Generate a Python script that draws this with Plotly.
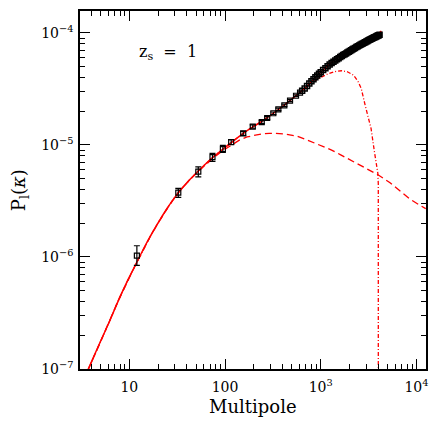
import plotly.graph_objects as go

# theory curves (multipole, P)
ell_full = [3.3, 3.73, 4.5, 5.35, 6.3, 7.7, 10, 12, 14.5, 17, 20, 24.6, 28, 32.5, 42, 52, 63, 74, 95,
            116, 155, 195, 242, 320, 417, 552, 686, 773, 872, 982, 1256, 1606, 2054, 2627, 3360, 4150,
            4300]
p_full = [7.8e-8, 1.0e-7, 1.44e-7, 2.0e-7, 2.74e-7, 4.1e-7, 6.6e-7, 9.0e-7, 1.24e-6, 1.59e-6, 2.02e-6,
          2.68e-6, 3.15e-6, 3.75e-6, 4.82e-6, 5.8e-6, 6.8e-6, 7.71e-6, 9.15e-6, 1.05e-5, 1.27e-5, 1.45e-5,
          1.62e-5, 1.92e-5, 2.27e-5, 2.76e-5, 3.22e-5, 3.55e-5, 3.97e-5, 4.4e-5, 5.32e-5, 6.35e-5,
          7.27e-5, 8.2e-5, 9.2e-5, 1.01e-4, 1.04e-4]

ell_lin = [3.3, 3.73, 5.35, 7.7, 10, 12, 17, 24.6, 32.5, 42, 52, 63, 74, 95, 116, 140, 170, 200, 240,
           290, 340, 420, 560, 700, 850, 1000, 1300, 1600, 2000, 2600, 3200, 4000, 5300, 6400, 8500,
           10500, 12500]
p_lin = [7.8e-8, 1.0e-7, 2.0e-7, 4.1e-7, 6.6e-7, 9.0e-7, 1.59e-6, 2.68e-6, 3.75e-6, 4.8e-6, 5.75e-6,
         6.7e-6, 7.55e-6, 8.9e-6, 1.0e-5, 1.1e-5, 1.18e-5, 1.22e-5, 1.255e-5, 1.27e-5, 1.27e-5, 1.25e-5,
         1.2e-5, 1.12e-5, 1.05e-5, 9.9e-6, 9.0e-6, 8.2e-6, 7.4e-6, 6.6e-6, 6.0e-6, 5.4e-6, 4.6e-6,
         4.0e-6, 3.3e-6, 2.95e-6, 2.7e-6]

ell_cut = [3.3, 3.73, 4.5, 5.35, 6.3, 7.7, 10, 12, 14.5, 17, 20, 24.6, 28, 32.5, 42, 52, 63, 74, 95,
           116, 155, 195, 242, 320, 417, 552, 686, 800, 1000, 1200, 1400, 1650, 1900, 2200, 2450, 2650,
           2900, 3150, 3360, 3640, 3800, 3950, 3995, 4000]
p_cut = [7.8e-8, 1.0e-7, 1.44e-7, 2.0e-7, 2.74e-7, 4.1e-7, 6.6e-7, 9.0e-7, 1.24e-6, 1.59e-6, 2.02e-6,
         2.68e-6, 3.15e-6, 3.75e-6, 4.82e-6, 5.8e-6, 6.8e-6, 7.71e-6, 9.15e-6, 1.05e-5, 1.27e-5,
         1.45e-5, 1.62e-5, 1.92e-5, 2.27e-5, 2.76e-5, 3.2e-5, 3.58e-5, 4.0e-5, 4.33e-5, 4.52e-5,
         4.6e-5, 4.5e-5, 4.2e-5, 3.7e-5, 3.2e-5, 2.3e-5, 1.75e-5, 1.4e-5, 8.7e-6, 7.0e-6, 5.6e-6,
         4.5e-6, 1e-9]

# binned measurements with error bars
ell_pts = [12, 32.5, 52.6, 74, 95, 116, 155, 195, 242, 276, 320, 361, 417, 478, 552, 608]
p_pts = [1.03e-6, 3.75e-6, 5.78e-6, 7.8e-6, 9.2e-6, 1.06e-5, 1.27e-5, 1.46e-5, 1.6e-5, 1.74e-5,
         1.92e-5, 2.08e-5, 2.26e-5, 2.49e-5, 2.75e-5, 2.93e-5]
err_up = [0.23e-6, 0.35e-6, 0.6e-6, 0.63e-6, 0.7e-6, 0.55e-6, 0.55e-6, 0.5e-6, 0.5e-6, 0.5e-6,
          0.5e-6, 0.5e-6, 0.5e-6, 0.5e-6, 0.5e-6, 0.5e-6]
err_dn = [0.19e-6, 0.34e-6, 0.6e-6, 0.65e-6, 0.6e-6, 0.5e-6, 0.5e-6, 0.5e-6, 0.5e-6, 0.5e-6,
          0.5e-6, 0.5e-6, 0.5e-6, 0.5e-6, 0.5e-6, 0.5e-6]

# dense high-multipole measurements (merge into a band)
ell_band = [640, 680, 720, 760, 800, 840, 880, 920, 960, 1000, 1060, 1120, 1180, 1240, 1300, 1360,
            1420, 1480, 1540, 1600, 1660, 1720, 1780, 1840, 1900, 1960, 2020, 2080, 2140, 2200, 2280,
            2360, 2440, 2520, 2600, 2680, 2760, 2840, 2920, 3000, 3080, 3160, 3240, 3320, 3400, 3480,
            3560, 3640, 3720, 3800, 3880, 3960, 4040, 4120]
p_band = [3.05e-5, 3.19e-5, 3.36e-5, 3.54e-5, 3.71e-5, 3.87e-5, 4.03e-5, 4.18e-5, 4.32e-5, 4.46e-5,
          4.66e-5, 4.85e-5, 5.05e-5, 5.24e-5, 5.39e-5, 5.54e-5, 5.68e-5, 5.82e-5, 5.96e-5, 6.1e-5,
          6.22e-5, 6.34e-5, 6.46e-5, 6.57e-5, 6.69e-5, 6.8e-5, 6.91e-5, 7.02e-5, 7.12e-5, 7.22e-5,
          7.35e-5, 7.48e-5, 7.61e-5, 7.73e-5, 7.85e-5, 7.96e-5, 8.07e-5, 8.18e-5, 8.28e-5, 8.38e-5,
          8.49e-5, 8.59e-5, 8.69e-5, 8.79e-5, 8.88e-5, 8.97e-5, 9.05e-5, 9.14e-5, 9.22e-5, 9.3e-5,
          9.38e-5, 9.47e-5, 9.55e-5, 9.62e-5]

x_major = [10, 100, 1000, 10000]
x_major_text = ["10", "100", "10<sup>3</sup>", "10<sup>4</sup>"]
y_major = [1e-7, 1e-6, 1e-5, 1e-4]
y_major_text = ["10<sup>\u22127</sup>", "10<sup>\u22126</sup>", "10<sup>\u22125</sup>", "10<sup>\u22124</sup>"]

x_minor = [m * 10 ** e for e in range(0, 4) for m in range(2, 10)]
y_minor = [m * 10.0 ** e for e in range(-7, -3) for m in range(2, 10)]

red = "#ff0000"
font = "DejaVu Serif"

fig = go.Figure()
fig.add_trace(go.Scatter(x=ell_lin, y=p_lin, mode="lines",
                         line=dict(color=red, width=1.3, dash="7px,4px")))
fig.add_trace(go.Scatter(x=ell_cut, y=p_cut, mode="lines",
                         line=dict(color=red, width=1.3, dash="4px,2px,1px,2px")))
fig.add_trace(go.Scatter(x=ell_full, y=p_full, mode="lines", line_shape="spline",
                         line=dict(color=red, width=1.5, smoothing=0.6)))
fig.add_trace(go.Scatter(x=ell_pts, y=p_pts, mode="markers",
                         marker=dict(symbol="square-open", size=5, color="black",
                                     line=dict(width=1.2, color="black")),
                         error_y=dict(type="data", symmetric=False, array=err_up, arrayminus=err_dn,
                                      color="black", thickness=1.2, width=3)))
fig.add_trace(go.Scatter(x=ell_band, y=p_band, mode="markers",
                         marker=dict(symbol="square-open", size=5, color="black",
                                     line=dict(width=1.5, color="black"))))

axis_common = dict(type="log", showgrid=False, zeroline=False, showline=True, linecolor="black",
                   linewidth=1.5, mirror="ticks", ticks="inside", ticklen=10, tickwidth=1.3,
                   tickcolor="black", automargin=False,
                   tickfont=dict(family=font, size=14, color="black"))

fig.update_xaxes(range=[0.485, 4.10], tickmode="array", tickvals=x_major, ticktext=x_major_text,
                 ticklabelstandoff=4,
                 minor=dict(tickmode="array", tickvals=x_minor, ticks="inside", ticklen=5,
                            tickwidth=1.2, tickcolor="black", showgrid=False),
                 **axis_common)
fig.update_yaxes(range=[-7, -3.804], tickmode="array", tickvals=y_major, ticktext=y_major_text,
                 ticklabelstandoff=2,
                 minor=dict(tickmode="array", tickvals=y_minor, ticks="inside", ticklen=5,
                            tickwidth=1.2, tickcolor="black", showgrid=False),
                 **axis_common)

fig.add_annotation(text="Multipole", xref="paper", yref="paper", x=0.5, y=-0.106,
                   xanchor="center", yanchor="middle",
                   showarrow=False, font=dict(family=font, size=18, color="black"))
fig.add_annotation(text="P<sub>l</sub>(<i>\u03ba</i>)", xref="paper", yref="paper", x=-0.173, y=0.5,
                   xanchor="center", yanchor="middle",
                   textangle=-90, showarrow=False, font=dict(family=font, size=18, color="black"))
fig.add_annotation(text="z<sub>s</sub>  =  1", xref="paper", yref="paper", x=0.165, y=0.885,
                   xanchor="left", yanchor="middle",
                   showarrow=False, font=dict(family=font, size=16, color="black"))

fig.update_layout(width=436, height=436, margin=dict(l=80, r=10, t=11, b=67),
                  plot_bgcolor="white", paper_bgcolor="white", showlegend=False)

fig.write_html("out.html", config={"displayModeBar": False},
               post_script="document.body.style.margin='0';")
